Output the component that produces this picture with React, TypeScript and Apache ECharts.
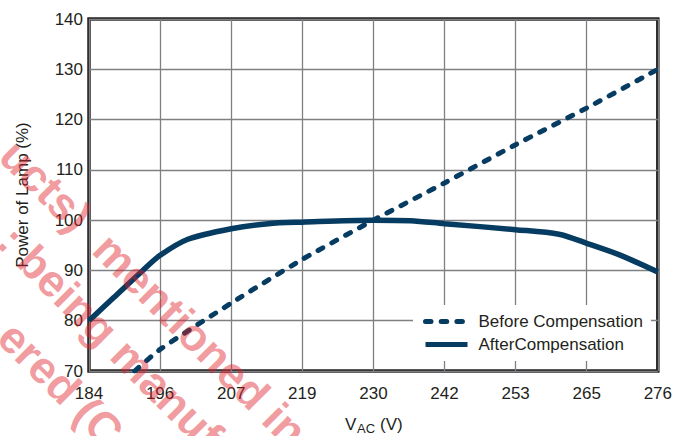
import React, { useEffect, useRef } from 'react';
import * as echarts from 'echarts';

// x axis: VAC steps of 5% around 230V (labels rounded)
const xMin = 184;
const xMax = 276;
const xStep = 11.5;
const yMin = 70;
const yMax = 140;
const yStep = 10;

const seriesNames = ['Before Compensation', 'AfterCompensation'];

const beforeV = [191.4, 195.5, 207, 218.5, 230, 241.5, 253, 264.5, 276];
const beforeP = [70, 74.3, 83.5, 92.2, 100, 107.4, 115, 122.3, 130];

const afterV = [184, 188, 192.7, 195.5, 200, 207, 213, 218.5, 230, 236, 241.5, 253, 260, 264.5, 270, 276];
const afterP = [80, 84.6, 90, 93, 96.2, 98.3, 99.3, 99.6, 100, 99.9, 99.3, 98.1, 97.2, 95.4, 93, 89.7];

const yAxisTitle = 'Power of Lamp (%)';
const watermarkTexts = ['ucts)', 'mentioned in this', ': being manufactured', 'ered (Co'];

const FONT = '"Liberation Sans", Arial, sans-serif';
const INK = '#231f20';
const NAVY = '#063b62';

export default function App() {
  const ref = useRef<HTMLDivElement>(null);

  useEffect(() => {
    document.body.style.margin = '0';
    const chart = echarts.init(ref.current!, null, { renderer: 'svg' });
    const s = Math.SQRT1_2;
    const wm = (text: string, along: number, perp: number) => ({
      type: 'text',
      x: s * (along - perp),
      y: s * (along + perp),
      rotation: -Math.PI / 4,
      z: 100,
      silent: true,
      style: {
        text,
        fontFamily: 'Liberation Sans',
        fontWeight: 'bold',
        fontSize: 45,
        fill: 'rgba(225, 30, 40, 0.45)',
        align: 'left',
        verticalAlign: 'middle',
      },
    });
    chart.setOption({
      animation: false,
      backgroundColor: '#ffffff',
      textStyle: { fontFamily: FONT },
      grid: {
        left: 89,
        right: 16,
        top: 19,
        bottom: 65,
        show: true,
        borderColor: INK,
        borderWidth: 3.5,
        backgroundColor: 'transparent',
      },
      legend: {
        orient: 'vertical',
        left: 413,
        top: 305,
        backgroundColor: '#ffffff',
        padding: [8, 8, 8, 10],
        itemWidth: 42,
        itemHeight: 14,
        itemGap: 6,
        data: seriesNames,
        lineStyle: { width: 5 },
        itemStyle: { opacity: 0, borderWidth: 0 },
        textStyle: { fontSize: 17, color: INK, fontFamily: FONT, padding: [0, 0, 0, 6] },
      },
      xAxis: {
        type: 'value',
        min: xMin,
        max: xMax,
        interval: xStep,
        axisLine: { show: false },
        axisTick: { show: false },
        axisLabel: {
          fontSize: 17,
          color: INK,
          margin: 14,
          formatter: (v: number) => String(Math.round(v)),
        },
        splitLine: { show: true, lineStyle: { color: '#7f8083', width: 1.3 } },
      },
      yAxis: {
        type: 'value',
        min: yMin,
        max: yMax,
        interval: yStep,
        name: yAxisTitle,
        nameLocation: 'middle',
        nameGap: 58,
        nameRotate: 90,
        nameTextStyle: { fontSize: 17, color: INK, fontFamily: FONT },
        axisLine: { show: false },
        axisTick: { show: false },
        axisLabel: { fontSize: 17, color: INK, margin: 6 },
        splitLine: { show: true, lineStyle: { color: '#7f8083', width: 1.3 } },
      },
      series: [
        {
          name: seriesNames[0],
          type: 'line',
          data: beforeV.map((v, i) => [v, beforeP[i]]),
          symbol: 'none',
          smooth: 0.2,
          lineStyle: { color: NAVY, width: 5, type: [5.5, 10.2], cap: 'round' },
          itemStyle: { color: NAVY },
          z: 3,
        },
        {
          name: seriesNames[1],
          type: 'line',
          data: afterV.map((v, i) => [v, afterP[i]]),
          symbol: 'none',
          smooth: 0.3,
          lineStyle: { color: NAVY, width: 5.5 },
          itemStyle: { color: NAVY },
          z: 4,
        },
      ],
      graphic: [
        {
          type: 'group',
          children: [
            { type: 'text', x: 345, y: 416, style: { text: 'V', font: `17px ${FONT}`, fill: INK, verticalAlign: 'top' } },
            { type: 'text', x: 357, y: 422, style: { text: 'AC', font: `13px ${FONT}`, fill: INK, verticalAlign: 'top' } },
            { type: 'text', x: 380, y: 416, style: { text: '(V)', font: `17px ${FONT}`, fill: INK, verticalAlign: 'top' } },
          ],
        },
        wm(watermarkTexts[0], 110, 99),
        wm(watermarkTexts[1], 242, 99),
        wm(watermarkTexts[2], 169.4, 161),
        wm(watermarkTexts[3], 237, 228.7),
      ],
    });
    return () => chart.dispose();
  }, []);

  return <div ref={ref} style={{ width: 675, height: 436 }} />;
}
